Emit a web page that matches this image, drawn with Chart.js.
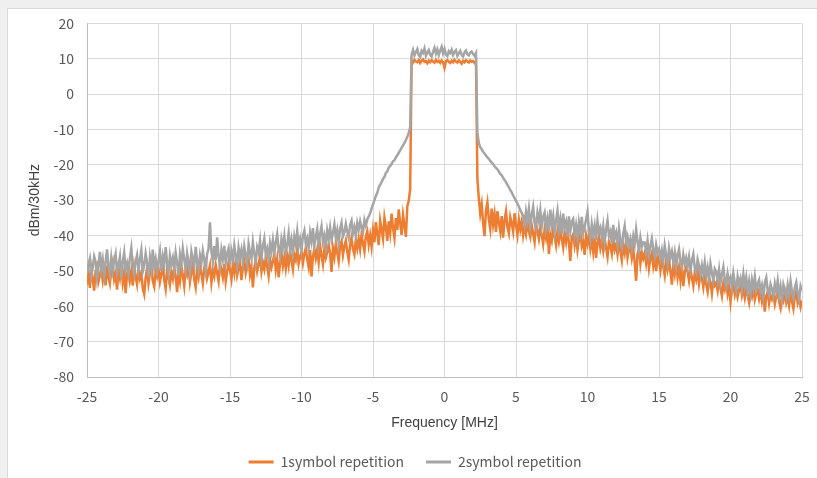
<!DOCTYPE html>
<html><head><meta charset="utf-8">
<script src="https://cdn.jsdelivr.net/npm/chart.js@4.4.1/dist/chart.umd.min.js"></script>
<style>
html,body{margin:0;padding:0;width:817px;height:478px;overflow:hidden;background:#efefef;}
#card{position:absolute;left:7px;top:8px;width:830px;height:500px;background:#fff;border:1px solid #d9d9d9;box-sizing:border-box;}
#wrap{position:absolute;left:8px;top:9px;width:809px;height:490px;}
</style></head><body>
<div id="card"></div>
<div id="wrap"><canvas id="c"></canvas></div>
<script>
// Frequency sweep: start and step of the sampled grid (MHz)
const FREQ_START = -25;
const FREQ_STEP = 0.1;

const seriesNames = ['1symbol repetition', '2symbol repetition'];

// 1symbol repetition (dBm/30kHz), one value per 0.1 MHz from -25 to 25
const oneSymbol = [
 -53.9,-50.6,-54.8,-49.4,-52.3,-55.6,-50.1,-48.7,-53.0,-51.2,
 -49.3,-52.7,-50.0,-54.1,-48.5,-51.8,-53.6,-49.9,-47.8,-52.4,
 -50.8,-55.3,-49.6,-51.9,-48.2,-53.2,-50.4,-56.3,-51.0,-49.1,
 -52.6,-50.0,-54.2,-48.8,-51.5,-53.8,-49.7,-52.1,-50.5,-55.0,
 -56.6,-51.9,-49.2,-53.5,-50.7,-48.6,-52.8,-54.4,-50.2,-51.6,
 -49.4,-53.1,-50.9,-48.0,-52.6,-55.1,-49.8,-51.7,-53.9,-50.3,
 -52.2,-49.0,-51.4,-56.0,-50.6,-52.9,-48.7,-51.2,-54.3,-49.5,
 -51.0,-48.3,-53.2,-50.5,-47.9,-52.4,-54.6,-49.6,-51.8,-48.8,
 -50.9,-53.5,-49.1,-47.6,-52.0,-50.3,-48.4,-53.3,-49.9,-51.5,
 -48.2,-50.7,-52.9,-47.9,-49.6,-51.8,-48.1,-53.0,-50.2,-47.5,
 -49.8,-52.3,-48.0,-50.6,-46.9,-51.2,-49.3,-47.4,-52.6,-48.9,
 -47.2,-50.5,-48.3,-46.5,-51.0,-48.8,-54.7,-49.2,-47.0,-50.1,
 -48.1,-45.9,-50.2,-47.6,-49.5,-46.3,-48.7,-51.4,-46.8,-49.0,
 -47.3,-45.4,-49.6,-46.6,-51.8,-47.9,-45.0,-48.6,-46.2,-49.3,
 -45.8,-48.4,-44.3,-47.1,-49.6,-45.5,-46.9,-43.8,-48.0,-46.1,
 -44.6,-47.8,-45.2,-43.5,-46.7,-48.9,-44.1,-51.6,-45.9,-43.7,
 -46.4,-44.0,-47.5,-42.8,-45.6,-48.1,-43.9,-46.3,-44.7,-42.5,
 -45.1,-50.3,-43.6,-46.0,-42.2,-44.8,-47.3,-43.1,-41.7,-45.5,
 -43.0,-41.4,-44.6,-46.8,-42.5,-40.6,-43.9,-45.4,-41.2,-43.6,
 -40.9,-43.8,-39.7,-42.3,-44.5,-40.2,-38.8,-42.6,-40.0,-43.2,
 -38.6,-41.9,-36.2,-39.4,-42.7,-35.8,-38.3,-40.9,-34.9,-37.6,
 -41.5,-36.0,-39.2,-33.8,-37.9,-40.7,-35.1,-38.4,-32.6,-36.5,
 -39.8,-34.2,-37.1,-40.4,-31.8,-30.2,-26.8,
 9.5,8.9,9.7,9.2,9.0,9.6,8.8,9.4,9.8,9.1,
 9.3,8.7,9.5,9.0,9.6,9.2,8.9,9.7,9.1,9.4,
 8.8,9.5,9.0,7.4,9.3,9.6,9.1,8.8,9.4,9.0,
 9.7,9.2,8.9,9.5,9.1,8.6,9.4,9.0,9.6,9.2,
 8.9,9.5,9.1,9.3,8.8,9.4,
 -24.0,-29.5,-33.8,-31.2,-36.5,-40.2,-33.0,-30.6,-35.4,-38.1,
 -32.4,-36.9,-34.0,-39.0,-33.1,-36.2,-38.8,-34.5,-40.6,-35.7,
 -33.2,-37.6,-39.4,-34.8,-36.6,-38.9,-33.7,-37.0,-39.8,-35.5,
 -38.3,-36.1,-40.0,
 -37.4,-39.6,-36.3,-38.8,
 -40.4,-37.1,-39.5,-41.8,-36.9,-38.6,-40.9,-37.8,-39.9,-42.4,
 -38.3,-40.6,-37.5,-45.2,-39.8,-41.5,-38.0,-40.2,-42.7,-38.9,
 -41.6,-38.7,-40.9,-43.3,-39.2,-41.8,-38.5,-42.0,-47.2,-40.5,
 -39.6,-42.8,-40.3,-44.1,-41.2,-38.9,-43.0,-41.7,-45.5,-40.0,
 -42.3,-39.9,-43.7,-41.0,-44.6,-40.6,-46.3,-42.1,-40.2,-43.5,
 -41.3,-44.2,-40.8,-43.5,-46.0,-41.7,-42.9,-45.1,-40.5,-44.0,
 -42.6,-45.3,-41.9,-44.4,-47.0,-42.8,-44.9,-41.6,-46.2,-43.7,
 -43.1,-46.4,-44.0,-47.5,-52.8,-45.2,-43.6,-47.9,-44.8,-46.5,
 -45.0,-47.8,-44.4,-49.2,-46.3,-44.9,-48.6,-46.0,-50.1,-45.6,
 -47.2,-49.8,-46.3,-48.9,-51.3,-47.0,-49.5,-46.8,-50.2,-53.9,
 -48.4,-50.9,-47.6,-51.7,-49.0,-52.6,-48.5,-54.3,-50.4,-48.9,
 -50.3,-52.8,-49.6,-51.9,-54.2,-50.6,-52.4,-49.8,-53.7,-51.2,
 -52.0,-54.6,-51.3,-53.7,-55.8,-51.9,-53.2,-56.4,-52.6,-54.1,
 -53.3,-55.6,-52.7,-54.9,-57.1,-53.5,-55.2,-52.9,-56.5,-54.4,
 -58.8,-55.1,-53.9,-56.7,-54.6,-57.3,-55.4,-53.8,-56.9,-55.0,
 -57.6,-54.9,-56.8,-58.9,-55.6,-57.2,-54.7,-58.1,-56.3,-55.2,
 -57.9,-55.8,-58.6,-56.4,-61.5,-57.1,-55.9,-59.2,-56.8,-58.0,
 -56.6,-59.4,-57.2,-55.7,-58.8,-60.5,-56.9,-58.3,-56.0,-59.0,
 -57.5,-59.8,-56.4,-58.6,-60.7,-57.3,-55.9,-59.1,-57.8,-60.2,-58.4
];

// 2symbol repetition (dBm/30kHz), one value per 0.1 MHz from -25 to 25
const twoSymbol = [
 -50.8,-48.2,-46.5,-51.3,-49.0,-45.9,-47.4,-52.0,-48.8,-44.6,
 -49.5,-46.8,-51.2,-47.7,-43.9,-48.6,-50.9,-46.3,-49.8,-47.1,
 -45.2,-50.4,-48.3,-46.0,-52.1,-47.5,-44.8,-49.6,-47.9,-50.7,
 -46.4,-43.6,-48.9,-51.0,-47.3,-45.5,-49.8,-46.9,-44.2,-50.2,
 -48.5,-45.1,-47.8,-51.6,-46.2,-49.3,-44.0,-48.7,-46.6,-50.0,
 -47.2,-44.5,-49.9,-46.0,-48.4,-43.3,-47.6,-50.8,-45.7,-48.1,
 -46.3,-49.5,-44.9,-47.8,-51.2,-45.4,-48.0,-43.7,-46.8,-49.6,
 -45.1,-47.9,-50.4,-44.6,-46.9,-48.8,-43.2,-47.3,-49.7,-45.6,
 -47.7,-44.3,-46.8,-49.9,-45.2,-43.8,-36.3,-44.5,-47.4,-43.0,
 -46.9,-40.5,-45.8,-48.7,-44.1,-46.6,-42.9,-47.8,-45.0,-43.6,
 -48.2,-44.4,-46.7,-42.8,-45.9,-48.6,-43.5,-46.1,-44.0,-47.4,
 -43.1,-45.8,-48.0,-42.4,-44.7,-46.5,-41.9,-45.2,-47.6,-43.3,
 -44.8,-41.5,-46.2,-43.0,-40.9,-45.4,-43.8,-47.1,-42.2,-44.5,
 -41.3,-44.9,-42.0,-39.6,-43.7,-45.8,-41.1,-43.4,-40.2,-44.6,
 -42.7,-39.4,-43.9,-41.2,-44.8,-40.3,-42.5,-38.8,-43.1,-41.0,
 -44.0,-40.1,-38.6,-42.4,-40.9,-43.6,-39.2,-41.7,-37.9,-42.8,
 -40.5,-38.2,-42.6,-39.5,-37.4,-41.8,-40.0,-43.1,-38.6,-40.9,
 -37.8,-41.2,-39.3,-36.9,-40.7,-38.5,-42.0,-38.0,-36.4,-40.2,
 -39.1,-36.7,-38.9,-40.6,-37.0,-35.8,-39.4,-37.6,-40.1,-36.5,
 -38.3,-36.0,-37.9,-39.0,-35.6,-37.2,-35.4,-34.6,-33.7,-32.4,
 -31.2,-30.0,-28.8,-27.9,-26.4,-25.6,-24.9,-24.0,-23.4,-22.3,
 -21.9,-20.8,-20.3,-19.8,-19.0,-18.7,-17.9,-17.3,-16.6,-15.9,
 -15.2,-14.5,-13.8,-13.0,-12.1,-11.0,-9.3,
 11.2,12.5,10.9,11.8,12.7,11.0,10.5,12.2,11.6,12.9,
 10.8,11.7,12.4,11.1,10.6,12.0,13.1,11.4,12.6,11.0,
 12.3,13.4,11.5,12.8,11.2,10.7,12.1,11.6,12.5,11.0,
 11.9,12.4,10.8,11.5,12.2,11.1,10.6,11.8,12.3,11.2,
 10.9,11.7,12.0,11.3,10.8,11.6,
 -11.0,-13.8,-15.0,-15.6,-16.3,-16.8,-17.4,-17.9,-18.3,-18.9,
 -19.4,-19.8,-20.4,-20.9,-21.3,-21.9,-22.6,-23.0,-23.7,-24.3,
 -24.9,-25.7,-26.3,-27.2,-27.8,-28.7,-29.4,-30.2,-31.0,-31.8,
 -32.9,-33.6,-34.4,
 -36.9,-33.2,-35.8,-32.5,
 -37.2,-34.1,-31.9,-36.5,-38.0,-33.6,-35.9,-32.8,-37.4,-34.7,
 -33.5,-37.9,-35.2,-38.6,-32.7,-36.8,-34.4,-39.1,-35.7,-33.0,
 -38.2,-35.4,-39.6,-33.8,-37.5,-36.1,-40.3,-34.6,-38.7,-36.0,
 -35.3,-39.8,-37.1,-40.5,-36.2,-38.9,-34.7,-39.4,-37.6,-35.5,
 -33.3,-38.6,-40.9,-36.8,-39.7,-37.2,-41.3,-35.9,-39.0,-37.8,
 -40.6,-37.4,-41.8,-38.3,-35.8,-40.1,-38.9,-42.2,-37.0,-40.7,
 -39.2,-42.5,-38.1,-41.6,-43.4,-39.5,-37.3,-41.9,-40.3,-43.0,
 -41.0,-43.5,-40.2,-42.4,-38.3,-41.8,-44.2,-40.6,-43.1,-41.9,
 -42.0,-44.8,-41.5,-45.3,-43.0,-40.9,-44.1,-46.0,-42.6,-44.7,
 -43.8,-46.5,-44.2,-47.3,-42.9,-45.6,-47.9,-43.6,-46.1,-44.5,
 -47.5,-44.8,-48.6,-45.9,-43.9,-47.2,-49.0,-45.4,-47.8,-46.3,
 -48.8,-46.1,-49.7,-47.0,-45.3,-49.2,-50.4,-46.8,-48.5,-51.0,
 -48.4,-50.9,-47.6,-51.5,-49.1,-52.3,-48.0,-50.6,-52.8,-49.4,
 -50.2,-52.7,-49.6,-53.5,-51.0,-48.9,-52.4,-54.3,-50.8,-53.1,
 -51.9,-54.6,-50.7,-53.4,-55.5,-51.6,-53.9,-52.2,-55.0,-50.9,
 -54.2,-51.8,-55.7,-53.0,-56.4,-52.5,-54.8,-51.6,-55.3,-53.7,
 -52.6,-55.9,-54.1,-57.2,-53.3,-51.9,-55.6,-56.8,-53.8,-55.2,
 -57.0,-53.6,-55.8,-52.8,-56.9,-54.4,-58.0,-53.9,-55.5,-57.4,
 -54.0,-56.7,-52.9,-55.9,-57.6,-54.6,-53.2,-56.5,-58.1,-54.3,-55.6
];

const xTicks = [-25,-20,-15,-10,-5,0,5,10,15,20,25];
const yTicks = [20,10,0,-10,-20,-30,-40,-50,-60,-70,-80];

const toPoints = arr => arr.map((v, i) => ({x: FREQ_START + FREQ_STEP * i, y: v}));

const tickFont = {family: "'Noto Sans CJK JP', 'Noto Sans', sans-serif", size: 14};
const titleFont = {family: "'Liberation Sans', Arial, sans-serif", size: 14};

const legendShift = {
  id: 'legendShift',
  afterLayout(chart) {
    if (chart.legend) { chart.legend.left += 10; chart.legend.right += 10; }
  }
};

new Chart(document.getElementById('c'), {
  type: 'line',
  data: {
    datasets: [
      {label: seriesNames[0], data: toPoints(oneSymbol), borderColor: '#ED7D31', backgroundColor: '#ED7D31',
       borderWidth: 2.5, pointRadius: 0, tension: 0, order: 1},
      {label: seriesNames[1], data: toPoints(twoSymbol), borderColor: '#A5A5A5', backgroundColor: '#A5A5A5',
       borderWidth: 2.5, pointRadius: 0, tension: 0, order: 0}
    ]
  },
  options: {
    responsive: true,
    maintainAspectRatio: false,
    animation: false,
    events: [],
    layout: {padding: {top: 14.3, right: 15, bottom: 20, left: 0}},
    scales: {
      x: {
        type: 'linear', min: xTicks[0], max: xTicks[xTicks.length - 1],
        afterBuildTicks: s => { s.ticks = xTicks.map(v => ({value: v})); },
        afterFit: s => { s.height = 56; s.paddingLeft = 0; s.paddingRight = 0; },
        grid: {color: '#d9d9d9', drawTicks: false, lineWidth: 1},
        border: {color: '#bfbfbf', width: 1},
        ticks: {color: '#595959', font: tickFont, padding: 11, maxRotation: 0, autoSkip: false,
                callback: v => String(v)},
        title: {display: true, text: 'Frequency [MHz]', color: '#404040', font: titleFont, padding: {top: 0, bottom: 1}}
      },
      y: {
        type: 'linear', min: yTicks[yTicks.length - 1], max: yTicks[0],
        afterBuildTicks: s => { s.ticks = yTicks.slice().reverse().map(v => ({value: v})); },
        afterFit: s => { s.width = 79; s.paddingTop = 0; s.paddingBottom = 0; },
        grid: {color: '#d9d9d9', drawTicks: false, lineWidth: 1},
        border: {color: '#bfbfbf', width: 1},
        ticks: {color: '#595959', font: tickFont, padding: 13, autoSkip: false, callback: v => String(v)},
        title: {display: true, text: 'dBm/30kHz', color: '#404040', font: titleFont, padding: {top: 18.6, bottom: 0}}
      }
    },
    plugins: {
      tooltip: {enabled: false},
      legend: {
        position: 'bottom',
        labels: {
          boxWidth: 25, boxHeight: 3, padding: 22, color: '#595959', font: tickFont,
          generateLabels: chart => chart.data.datasets.map((ds, i) => ({
            text: ds.label, fillStyle: ds.borderColor, strokeStyle: ds.borderColor, lineWidth: 0,
            hidden: false, datasetIndex: i, fontColor: '#595959'
          }))
        }
      }
    }
  },
  plugins: [legendShift]
});
</script>
</body></html>
